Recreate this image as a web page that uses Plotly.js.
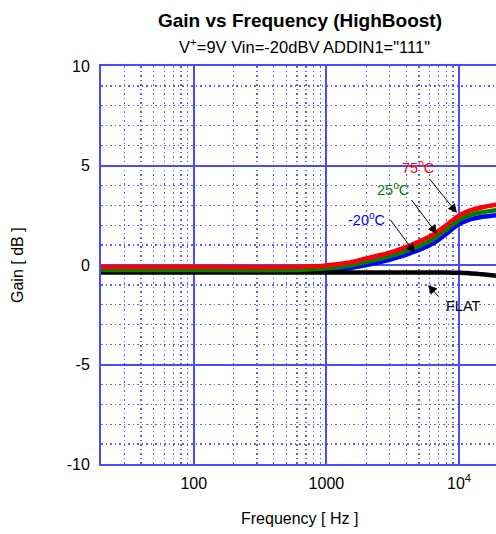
<!DOCTYPE html>
<html>
<head>
<meta charset="utf-8">
<script src="https://cdn.plot.ly/plotly-3.0.1.min.js"></script>
<style>
html,body{margin:0;padding:0;overflow:hidden;background:#fff;}
#chart{width:510px;height:534px;}
</style>
</head>
<body>
<div id="chart"></div>
<script>
// Data
var freq    = [20, 100, 300, 640, 1000, 1500, 2000, 3000, 3600, 4300, 5100, 6650, 8000, 9900, 12000, 15000, 20000];
var gain75  = [-0.1, -0.1, -0.11, -0.09, -0.02, 0.13, 0.33, 0.62, 0.8, 0.99, 1.2, 1.6, 2.0, 2.47, 2.73, 2.9, 3.05];
var gain25  = [-0.25, -0.25, -0.26, -0.24, -0.17, -0.03, 0.16, 0.44, 0.6, 0.78, 0.97, 1.38, 1.78, 2.25, 2.5, 2.65, 2.77];
var gainM20 = [-0.33, -0.33, -0.34, -0.33, -0.27, -0.15, 0.0, 0.26, 0.42, 0.6, 0.78, 1.17, 1.56, 2.04, 2.28, 2.42, 2.52];
var gainFlat= [-0.38, -0.38, -0.38, -0.38, -0.38, -0.38, -0.38, -0.38, -0.38, -0.38, -0.38, -0.38, -0.38, -0.39, -0.41, -0.47, -0.56];

var xTickVals = [100, 1000, 10000];
var xTickText = ["100", "1000", "10<sup>4</sup>"];
var yTickVals = [-10, -5, 0, 5, 10];
var yTickText = ["-10", "-5", "0", "5", "10"];
var xMinorVals = [30,40,50,60,70,80,90,200,300,400,500,600,700,800,900,2000,3000,4000,5000,6000,7000,8000,9000];

var FONT = "Arial, 'Liberation Sans', sans-serif";
var ML = 101, MT = 66, PW = 398, PH = 398;
function X(px){ return Math.log10(20) + (px - ML) * 3 / PW; }
function Y(py){ return 10 - (py - MT) * 20 / PH; }

function tr(y, color){
  return {type:'scatter', mode:'lines', x:freq, y:y, line:{color:color, width:4.5, shape:'spline', smoothing:0.9}, hoverinfo:'skip'};
}
var data = [tr(gainM20,'#0000ff'), tr(gainFlat,'#000000'), tr(gain25,'#008000'), tr(gain75,'#ff0000')];

function label(txt, px, py, color){
  return {xref:'x', yref:'y', x:X(px), y:Y(py), text:txt, showarrow:false,
          font:{family:FONT, size:14.5, color:color}, xanchor:'center', yanchor:'middle'};
}
function arrow(tailX, tailY, tipX, tipY){
  return {xref:'x', yref:'y', x:X(tipX), y:Y(tipY), ax:tailX-tipX, ay:tailY-tipY, text:' ',
          showarrow:true, arrowhead:2, arrowsize:1.8, arrowwidth:1, arrowcolor:'#000', standoff:0, startstandoff:0,
          font:{size:1}};
}

var GRID = '#4a4aff';
var MINOR = '#5c5cff';
var layout = {
  width:510, height:534,
  margin:{l:ML, r:510-ML-PW, t:MT, b:534-MT-PH, pad:0},
  paper_bgcolor:'#fff', plot_bgcolor:'#fff',
  showlegend:false,
  font:{family:FONT, size:16, color:'#000'},
  title:{text:'<b>Gain vs Frequency (HighBoost)</b>', font:{family:FONT, size:19, color:'#000'},
         xref:'paper', x:0.5, xanchor:'center', y:1-20/534, yanchor:'middle'},
  xaxis:{type:'log', range:[Math.log10(20), Math.log10(20000)], tickmode:'array', tickvals:xTickVals, ticktext:xTickText,
         showgrid:true, gridcolor:GRID, gridwidth:2, zeroline:false,
         showline:true, linecolor:GRID, linewidth:2, mirror:true, ticks:'', ticklabelstandoff:4,
         tickfont:{family:FONT, size:16, color:'#000'},
         minor:{tickmode:'array', tickvals:xMinorVals, showgrid:true, gridcolor:MINOR, gridwidth:1.3, griddash:'1.5px,3px', ticks:''}},
  yaxis:{range:[-10, 10], tickmode:'array', tickvals:yTickVals, ticktext:yTickText,
         showgrid:true, gridcolor:GRID, gridwidth:2, zeroline:false,
         showline:true, linecolor:GRID, linewidth:2, mirror:true, ticks:'', ticklabelstandoff:6,
         tickfont:{family:FONT, size:16, color:'#000'},
         minor:{dtick:1, showgrid:true, gridcolor:MINOR, gridwidth:1.3, griddash:'1.5px,3px', ticks:''}},
  annotations:[
    {xref:'paper', yref:'paper', x:(304-ML)/PW, y:(MT+PH-46)/PH, text:'V<sup>+</sup>=9V Vin=-20dBV ADDIN1="111"',
     showarrow:false, font:{family:FONT, size:16.5, color:'#000'}, xanchor:'center', yanchor:'middle'},
    {xref:'paper', yref:'paper', x:(299-ML)/PW, y:(MT+PH-518)/PH, text:'Frequency [ Hz ]',
     showarrow:false, font:{family:FONT, size:16, color:'#000'}, xanchor:'center', yanchor:'middle'},
    {xref:'paper', yref:'paper', x:(17-ML)/PW, y:0.5, text:'Gain [ dB ]', textangle:-90,
     showarrow:false, font:{family:FONT, size:16, color:'#000'}, xanchor:'center', yanchor:'middle'},
    label('75<sup>o</sup>C', 418, 167, '#ff0000'),
    label('25<sup>o</sup>C', 393, 189, '#008000'),
    label('-20<sup>o</sup>C', 366, 219, '#0000ff'),
    label('FLAT', 463, 306, '#000000'),
    arrow(428, 177, 457, 213),
    arrow(410, 198, 437, 234),
    arrow(389, 218, 415, 253),
    arrow(440, 298, 428, 285)
  ]
};

Plotly.newPlot('chart', data, layout, {staticPlot:true, displayModeBar:false});
</script>
</body>
</html>
